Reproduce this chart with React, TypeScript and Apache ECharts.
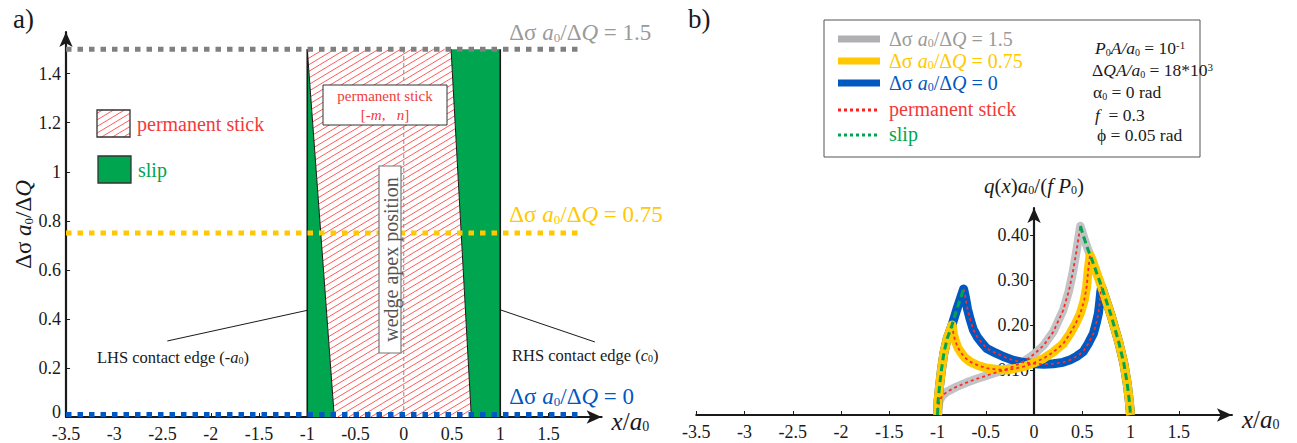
import React, { useEffect, useRef } from "react";
import * as echarts from "echarts";

// ---------------- data ----------------
const xTicks = [-3.5, -3, -2.5, -2, -1.5, -1, -0.5, 0, 0.5, 1, 1.5];
const yTicksA = [0, 0.2, 0.4, 0.6, 0.8, 1, 1.2, 1.4];
const yTicksB = [0.1, 0.2, 0.3, 0.4];

// panel a: load levels (Δσ a0/ΔQ)
const levelLabels = ["1.5", "0.75", "0"];
const levelPlotY = [1.5, 0.75, 0.01];
const levelEndX = 1.85;
const contactEdges = [-1, 1]; // LHS (-a0), RHS (c0)
const stickTop = 1.5;
const stickLeftBoundary = [[-0.72, 0], [-1, 1.5]]; // -m
const stickRightBoundary = [[0.7, 0], [0.49, 1.5]]; // n
const wedgeApex = [[0, 0], [0, 1.5]];
const lhsPointer = [[-2.45, 0.31], [-1, 0.435]];
const rhsPointer = [[1, 0.437], [1.98, 0.306]];

// panel b: q(x) a0/(f P0)
const envLeft = [[-1, 0], [-0.995, 0.03], [-0.98, 0.063], [-0.96, 0.1], [-0.935, 0.137], [-0.9, 0.17], [-0.85, 0.2], [-0.8, 0.235], [-0.73, 0.28]];
const envRight = [[0.48, 0.42], [0.52, 0.392], [0.56, 0.367], [0.6, 0.345], [0.7, 0.285], [0.8, 0.22], [0.88, 0.16], [0.93, 0.115], [0.965, 0.07], [0.985, 0.035], [1.0, 0]];
const grayStick = [[-1, 0.01], [-0.98, 0.032], [-0.95, 0.043], [-0.9, 0.052], [-0.8, 0.063], [-0.7, 0.072], [-0.6, 0.08], [-0.5, 0.087], [-0.4, 0.094], [-0.3, 0.101], [-0.2, 0.109], [-0.1, 0.12], [0, 0.135], [0.1, 0.155], [0.2, 0.185], [0.3, 0.232], [0.36, 0.275], [0.4, 0.315], [0.44, 0.365], [0.48, 0.42]];
const yellowStick = [[-0.85, 0.2], [-0.835, 0.18], [-0.82, 0.167], [-0.79, 0.15], [-0.765, 0.141], [-0.72, 0.128], [-0.66, 0.118], [-0.58, 0.11], [-0.49, 0.104], [-0.38, 0.101], [-0.28, 0.1], [-0.18, 0.104], [-0.1, 0.108], [0, 0.116], [0.1, 0.126], [0.2, 0.14], [0.3, 0.158], [0.37, 0.18], [0.43, 0.203], [0.48, 0.226], [0.52, 0.255], [0.545, 0.285], [0.56, 0.32], [0.58, 0.355]];
const blueStick = [[-0.73, 0.28], [-0.71, 0.26], [-0.69, 0.236], [-0.66, 0.211], [-0.63, 0.19], [-0.59, 0.174], [-0.54, 0.16], [-0.49, 0.148], [-0.4, 0.138], [-0.32, 0.13], [-0.22, 0.122], [-0.14, 0.118], [0, 0.114], [0.1, 0.113], [0.2, 0.114], [0.3, 0.117], [0.37, 0.122], [0.44, 0.13], [0.51, 0.141], [0.56, 0.158], [0.615, 0.181], [0.645, 0.205], [0.667, 0.226], [0.68, 0.25], [0.69, 0.272], [0.7, 0.285]];

// ---------------- styling helpers ----------------
const FONT = "Liberation Serif, serif";
const INK = "#1a1a1a";
const GRAY_L = "#808080";
const GRAY_T = "#9a9a9a";
const YEL = "#ffc800";
const BLUE = "#0058c0";
const RED = "#f23a3a";
const GREEN = "#00a550";

const richL = (size: number, color: string) => ({
  n: { fontFamily: FONT, fontSize: size, color },
  i: { fontFamily: FONT, fontSize: size, color, fontStyle: "italic" },
  s: { fontFamily: FONT, fontSize: Math.round(size * 0.55), color, verticalAlign: "bottom" },
});
const richG = (size: number, color: string) => ({
  n: { fontFamily: FONT, fontSize: size, fill: color },
  i: { fontFamily: FONT, fontSize: size, fill: color, fontStyle: "italic" },
  s: { fontFamily: FONT, fontSize: Math.round(size * 0.58), fill: color, verticalAlign: "bottom" },
  p: { fontFamily: FONT, fontSize: Math.round(size * 0.6), fill: color, verticalAlign: "top" },
});
const dsLabel = (v: string) => `{n|Δσ }{i|a}{s|0}{n|/Δ}{i|Q}{n| = ${v}}`;

const HATCH_K = 0.6;
const HATCH_STEP = 6.6;
function clipLine(pts: number[][], c: number) {
  const hits: number[][] = [];
  for (let k = 0; k < pts.length; k++) {
    const A = pts[k], B = pts[(k + 1) % pts.length];
    const fA = HATCH_K * A[0] + A[1] - c, fB = HATCH_K * B[0] + B[1] - c;
    if ((fA <= 0 && fB >= 0) || (fA >= 0 && fB <= 0)) {
      if (fA === fB) continue;
      const t = fA / (fA - fB);
      hits.push([A[0] + t * (B[0] - A[0]), A[1] + t * (B[1] - A[1])]);
    }
  }
  if (hits.length < 2) return null;
  hits.sort((p, q) => p[0] - q[0]);
  return [hits[0], hits[hits.length - 1]];
}
function hatchLines(pts: number[][], z = 0) {
  const sums = pts.map((p) => HATCH_K * p[0] + p[1]);
  const cmin = Math.min(...sums), cmax = Math.max(...sums);
  const out: any[] = [];
  for (let c = cmin + HATCH_STEP / 2; c < cmax; c += HATCH_STEP) {
    const seg = clipLine(pts, c);
    if (!seg) continue;
    out.push({
      type: "line",
      z,
      shape: { x1: seg[0][0], y1: seg[0][1], x2: seg[1][0], y2: seg[1][1] },
      style: { stroke: "#ff4a4a", lineWidth: 0.9 },
    });
  }
  return out;
}

const slipPolys = [
  [[contactEdges[0], 0], [contactEdges[0], stickTop], stickLeftBoundary[1], stickLeftBoundary[0]],
  [stickRightBoundary[0], stickRightBoundary[1], [contactEdges[1], stickTop], [contactEdges[1], 0]],
];
const stickPoly = [stickLeftBoundary[0], stickLeftBoundary[1], stickRightBoundary[1], stickRightBoundary[0]];

const grayFull = [...grayStick, ...envRight.filter((p) => p[0] > 0.48)];
const yellowFull = [...envLeft.filter((p) => p[0] < -0.85), ...yellowStick, ...envRight.filter((p) => p[0] > 0.58)];
const blueFull = [...envLeft.filter((p) => p[0] < -0.73), ...blueStick, ...envRight.filter((p) => p[0] > 0.7)];

const GRID_B_LEFT = 696.3;
const GRID_B_WIDTH = 535.6;
const X_MIN = -3.5;
const X_MAX = 2.05;

function buildOption() {
  const axisLine = (onZero: boolean) => ({
    onZero,
    lineStyle: { color: INK, width: 2.2 },
    symbol: ["none", "arrow"],
    symbolSize: [10, 15],
  });
  const lblStyle = { fontFamily: FONT, fontSize: 18, color: INK };

  const xAxisCommon = (gi: number) => ({
    gridIndex: gi,
    type: "value",
    min: X_MIN,
    max: X_MAX,
    axisLine: axisLine(false),
    axisTick: { show: true, inside: true, length: 4, customValues: xTicks, lineStyle: { color: INK, width: 1 } },
    axisLabel: { ...lblStyle, customValues: xTicks, margin: 8, formatter: (v: number) => String(v) },
    splitLine: { show: false },
    name: "{i|x}{n|/}{i|a}{s|0}",
    nameLocation: "end",
    nameGap: 10,
    nameTextStyle: { rich: richL(25, INK), verticalAlign: "middle", padding: [8, 0, 0, 0] },
  });

  const line = (gi: number, data: number[][], color: string, width: number, type: any = "solid", z = 3, extra: any = {}) => ({
    type: "line",
    xAxisIndex: gi,
    yAxisIndex: gi,
    data,
    symbol: "none",
    silent: true,
    z,
    lineStyle: { color, width, type, cap: "butt", join: "round" },
    ...extra,
  });

  const levelColors = [GRAY_L, YEL, BLUE];
  const levelTextColors = [GRAY_T, YEL, BLUE];
  const levelDy = [-17, -19, -18];

  const series: any[] = [
    {
      type: "custom",
      xAxisIndex: 0,
      yAxisIndex: 0,
      z: 1,
      silent: true,
      data: slipPolys.map((_, i) => [i, 0]),
      renderItem: (params: any, api: any) => {
        const pts = slipPolys[params.dataIndex].map((p) => api.coord(p));
        return { type: "polygon", shape: { points: pts }, style: { fill: GREEN } };
      },
    },
    {
      type: "custom",
      xAxisIndex: 0,
      yAxisIndex: 0,
      z: 1,
      silent: true,
      data: [[0, 0]],
      renderItem: (_params: any, api: any) => {
        const pts = stickPoly.map((p) => api.coord(p));
        return {
          type: "group",
          children: [{ type: "polygon", shape: { points: pts }, style: { fill: "#fff" } }, ...hatchLines(pts)],
        };
      },
    },
    line(0, [[contactEdges[0], 0], [contactEdges[0], stickTop]], INK, 1.6, "solid", 2),
    line(0, [[contactEdges[1], 0], [contactEdges[1], stickTop]], INK, 1.6, "solid", 2),
    line(0, stickLeftBoundary, INK, 1, "solid", 2),
    line(0, stickRightBoundary, INK, 1, "solid", 2),
    line(0, wedgeApex, "#8a8a8a", 1, [4, 3], 2),
    line(0, lhsPointer, INK, 1, "solid", 2),
    line(0, rhsPointer, INK, 1, "solid", 2),
    ...levelPlotY.map((y, i) =>
      line(0, [[X_MIN, y], [levelEndX, y]], levelColors[i], 5, [5.5, 6], 4, {
        endLabel: {
          show: true,
          formatter: () => dsLabel(levelLabels[i]),
          distance: 0,
          offset: [-73, levelDy[i]],
          align: "left",
          verticalAlign: "middle",
          rich: richL(23, levelTextColors[i]),
        },
      })
    ),
    // panel b
    line(1, grayFull, "#c3c3c6", 8.5, "solid", 3),
    line(1, blueFull, BLUE, 9, "solid", 4),
    line(1, yellowFull, YEL, 9, "solid", 5),
    line(1, grayStick, "#ff2a2a", 1.8, [3, 3], 6),
    line(1, yellowStick, "#ff2a2a", 1.8, [3, 3], 6),
    line(1, blueStick, "#ff2a2a", 1.8, [3, 3], 6),
    line(1, envLeft, GREEN, 3, [7, 4], 7),
    line(1, envRight, GREEN, 3, [7, 4], 7),
  ];

  // graphics
  const legHatchRect = [[97, 110], [130, 110], [130, 137], [97, 137]];
  const gtext = (x: number, y: number, text: string, size: number, color: string, extra: any = {}) => ({
    type: "text",
    x,
    y,
    z: 100,
    ...extra,
    style: {
      text,
      fontFamily: FONT,
      fontSize: size,
      fill: color,
      align: extra.align || "left",
      verticalAlign: "middle",
      rich: richG(size, color),
    },
  });
  const legLine = (y: number, color: string, width: number, dash: any) => ({
    type: "line",
    z: 100,
    shape: { x1: 838, y1: y, x2: 880, y2: y },
    style: { stroke: color, lineWidth: width, lineDash: dash },
  });

  const graphic: any[] = [
    gtext(13, 19, "a)", 27, INK),
    gtext(688, 19, "b)", 27, INK),
    // panel a legend
    { type: "rect", z: 100, shape: { x: 97, y: 110, width: 33, height: 27 }, style: { fill: "#fff", stroke: "none" } },
    ...hatchLines(legHatchRect, 101).map((l: any) => ({ ...l, z: 101 })),
    { type: "rect", z: 102, shape: { x: 97, y: 110, width: 33, height: 27 }, style: { fill: "none", stroke: "#333", lineWidth: 1.3 } },
    gtext(137, 124, "permanent stick", 20, RED),
    { type: "rect", z: 100, shape: { x: 98, y: 156, width: 33, height: 27 }, style: { fill: GREEN, stroke: "#333", lineWidth: 1.3 } },
    gtext(138, 170, "slip", 20, GREEN),
    // permanent stick box
    { type: "rect", z: 100, shape: { x: 323, y: 85, width: 124, height: 40 }, style: { fill: "#fff", stroke: "#333", lineWidth: 1 } },
    gtext(385, 96, "permanent stick", 15, RED, { align: "center" }),
    gtext(385, 115, "[-{i|m},   {i|n}]", 15, RED, { align: "center" }),
    // wedge apex box
    { type: "rect", z: 100, shape: { x: 379, y: 166, width: 22, height: 187 }, style: { fill: "#fff", stroke: "#777", lineWidth: 1.2 } },
    { ...gtext(0, 0, "wedge apex position", 20, "#555", { align: "center" }), x: 391, y: 259.5, rotation: Math.PI / 2 },
    // edge annotations
    gtext(97, 357, "LHS contact edge (-{i|a}{s|0})", 16.5, INK),
    gtext(512, 355, "RHS contact edge ({i|c}{s|0})", 16.5, INK),
    // panel b legend
    { type: "rect", z: 99, shape: { x: 824, y: 20, width: 376, height: 137 }, style: { fill: "#fff", stroke: "#555", lineWidth: 1 } },
    legLine(39, "#b0b0b3", 7, null),
    legLine(61, YEL, 7, null),
    legLine(83, BLUE, 7, null),
    legLine(110, "#ff2020", 3, [3, 3]),
    legLine(135, GREEN, 3, [3, 3]),
    gtext(889, 39, dsLabel("1.5"), 20, GRAY_T),
    gtext(889, 61, dsLabel("0.75"), 20, YEL),
    gtext(889, 83, dsLabel("0"), 20, BLUE),
    gtext(889, 109, "permanent stick", 20, RED),
    gtext(889, 134, "slip", 20, GREEN),
    gtext(1095, 48, "{i|P}{s|0}{i|A/a}{s|0}{n| = 10}{p|-1}", 17.5, INK),
    gtext(1092, 70, "{n|Δ}{i|Q}{i|A/a}{s|0}{n| = 18*10}{p|3}", 17.5, INK),
    gtext(1093, 92, "{n|α}{s|0}{n| = 0 rad}", 17.5, INK),
    gtext(1095, 115, "{i|f}{n|  = 0.3}", 17.5, INK),
    gtext(1097, 135, "{n|ϕ = 0.05 rad}", 17.5, INK),
  ];

  // panel b y-axis sits at x = 0: shift it inward from the grid's left edge
  const yOffsetB = -((0 - X_MIN) / (X_MAX - X_MIN)) * GRID_B_WIDTH;

  return {
    animation: false,
    backgroundColor: "#fff",
    textStyle: { fontFamily: FONT },
    grid: [
      { left: 66, top: 32, width: 535.6, height: 385 },
      { left: GRID_B_LEFT, top: 208, width: GRID_B_WIDTH, height: 207 },
    ],
    xAxis: [xAxisCommon(0), xAxisCommon(1)],
    yAxis: [
      {
        gridIndex: 0,
        type: "value",
        min: 0,
        max: 1.57,
        axisLine: axisLine(false),
        axisTick: { show: true, inside: true, length: 4, customValues: yTicksA, lineStyle: { color: INK } },
        axisLabel: {
          ...lblStyle,
          customValues: yTicksA,
          margin: 5,
          formatter: (v: number) => (v === 0 ? "{z|0}" : String(v)),
          rich: { z: { fontFamily: FONT, fontSize: 18, color: INK, padding: [0, 0, 10, 0] } },
        },
        splitLine: { show: false },
        name: "{n|Δσ }{i|a}{s|0}{n|/Δ}{i|Q}",
        nameLocation: "middle",
        nameRotate: 90,
        nameGap: 27,
        nameTextStyle: { rich: richL(23, INK) },
      },
      {
        gridIndex: 1,
        type: "value",
        min: 0,
        max: 0.46,
        offset: yOffsetB,
        axisLine: axisLine(false),
        axisTick: { show: true, inside: false, length: 4, customValues: yTicksB, lineStyle: { color: INK } },
        axisLabel: { ...lblStyle, customValues: yTicksB, margin: 5, formatter: (v: number) => v.toFixed(2) },
        splitLine: { show: false },
        name: "{i|q}{n|(}{i|x}{n|)}{i|a}{s|0}{n|/(}{i|f P}{s|0}{n|)}",
        nameLocation: "end",
        nameGap: 12,
        nameTextStyle: { rich: richL(21, INK) },
      },
    ],
    series,
    graphic,
  };
}

export default function App() {
  const ref = useRef<HTMLDivElement>(null);
  useEffect(() => {
    if (!ref.current) return;
    const chart = echarts.init(ref.current, null, { renderer: "svg" });
    chart.setOption(buildOption() as any);
    return () => chart.dispose();
  }, []);
  return (
    <div
      ref={ref}
      style={{ position: "fixed", left: 0, top: 0, width: 1297, height: 443, background: "#fff" }}
    />
  );
}
